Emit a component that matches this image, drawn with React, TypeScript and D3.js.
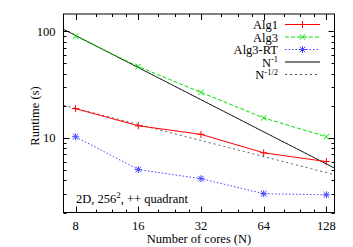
import React, { useEffect, useRef } from 'react';
import * as d3 from 'd3';

const cores = [8, 16, 32, 64, 128];
const alg1 = [18.8, 13.0, 10.8, 7.25, 6.0];
const alg3 = [90, 46.7, 26.7, 15.4, 10.25];
const alg3rt = [10.25, 5.05, 4.15, 3.0, 2.93];
const yTickLabels = [10, 100];
const xTickLabels = ['8', '16', '32', '64', '128'];

const App: React.FC = () => {
  const ref = useRef<SVGSVGElement | null>(null);

  useEffect(() => {
    const svg = d3.select(ref.current);
    svg.selectAll('*').remove();

    const W = 353;
    const H = 247;
    const left = 63.5;
    const right = 334.5;
    const top = 14;
    const bottom = 212.5;
    const font = '"Liberation Serif", "Times New Roman", serif';
    const fs = 12.5;

    svg.attr('width', W).attr('height', H);

    const x = d3.scaleLog().base(2).domain([7, 140]).range([left, right]);
    const y = d3.scaleLog().domain([2, 145]).range([bottom, top]);

    // clip for lines
    svg
      .append('clipPath')
      .attr('id', 'plotclip')
      .append('rect')
      .attr('x', left)
      .attr('y', top)
      .attr('width', right - left)
      .attr('height', bottom - top);

    const g = svg.append('g');

    // y ticks (major + minor, mirrored)
    const yMinor: number[] = [];
    for (const dec of [1, 10, 100]) {
      for (let k = 1; k <= 9; k++) {
        const v = dec * k;
        if (v >= 2 && v <= 145) yMinor.push(v);
      }
    }
    yMinor.forEach((v) => {
      const major = yTickLabels.includes(v);
      const len = major ? 6 : 3;
      const yy = Math.round(y(v)) + 0.5;
      g.append('line').attr('x1', left).attr('x2', left + len).attr('y1', yy).attr('y2', yy).attr('stroke', '#000');
      g.append('line').attr('x1', right - len).attr('x2', right).attr('y1', yy).attr('y2', yy).attr('stroke', '#000');
    });

    // x ticks
    const xMinor: number[] = [];
    cores.forEach((c) => {
      [1.25, 1.5, 1.75].forEach((m) => {
        if (c * m <= 140) xMinor.push(c * m);
      });
    });
    xMinor.forEach((v) => {
      const xx = Math.round(x(v)) + 0.5;
      g.append('line').attr('x1', xx).attr('x2', xx).attr('y1', bottom).attr('y2', bottom - 3).attr('stroke', '#000');
      g.append('line').attr('x1', xx).attr('x2', xx).attr('y1', top).attr('y2', top + 3).attr('stroke', '#000');
    });
    cores.forEach((v) => {
      const xx = Math.round(x(v)) + 0.5;
      g.append('line').attr('x1', xx).attr('x2', xx).attr('y1', bottom).attr('y2', bottom - 6).attr('stroke', '#000');
      g.append('line').attr('x1', xx).attr('x2', xx).attr('y1', top).attr('y2', top + 6).attr('stroke', '#000');
    });

    // tick labels
    yTickLabels.forEach((v) => {
      g.append('text')
        .attr('x', left - 8)
        .attr('y', y(v) + 4.5)
        .attr('text-anchor', 'end')
        .attr('font-family', font)
        .attr('font-size', fs)
        .text(String(v));
    });
    cores.forEach((v, i) => {
      g.append('text')
        .attr('x', x(v))
        .attr('y', bottom + 17.5)
        .attr('text-anchor', 'middle')
        .attr('font-family', font)
        .attr('font-size', fs)
        .text(xTickLabels[i]);
    });

    // axis titles
    g.append('text')
      .attr('x', (left + right) / 2)
      .attr('y', 243)
      .attr('text-anchor', 'middle')
      .attr('font-family', font)
      .attr('font-size', fs)
      .text('Number of cores (N)');
    g.append('text')
      .attr('transform', `translate(39,116) rotate(-90)`)
      .attr('text-anchor', 'middle')
      .attr('font-family', font)
      .attr('font-size', fs)
      .text('Runtime (s)');

    // reference curves
    const fx = d3.range(0, 201).map((i) => 7 * Math.pow(20, i / 200));
    const plotG = g.append('g').attr('clip-path', 'url(#plotclip)');
    const lineFn = d3
      .line<[number, number]>()
      .x((d) => x(d[0]))
      .y((d) => y(d[1]));

    plotG
      .append('path')
      .attr('d', lineFn(fx.map((n) => [n, 53.5 / Math.sqrt(n)] as [number, number])))
      .attr('fill', 'none')
      .attr('stroke', '#555')
      .attr('stroke-width', 1)
      .attr('stroke-dasharray', '2,3');
    plotG
      .append('path')
      .attr('d', lineFn(fx.map((n) => [n, 730 / n] as [number, number])))
      .attr('fill', 'none')
      .attr('stroke', '#000')
      .attr('stroke-width', 1);

    // series
    type Marker = 'plus' | 'cross' | 'star';
    const series: { name: string; vals: number[]; color: string; dash: string | null; marker: Marker }[] = [
      { name: 'Alg1', vals: alg1, color: '#ff0000', dash: null, marker: 'plus' },
      { name: 'Alg3', vals: alg3, color: '#00e000', dash: '4,2', marker: 'cross' },
      { name: 'Alg3-RT', vals: alg3rt, color: '#4444ff', dash: '1.5,2', marker: 'star' },
    ];

    const drawMarker = (sel: d3.Selection<SVGGElement, unknown, null, undefined>, cx: number, cy: number, m: Marker, color: string) => {
      const r = 3.5;
      const p = d3.path();
      if (m === 'plus' || m === 'star') {
        p.moveTo(cx - r, cy);
        p.lineTo(cx + r, cy);
        p.moveTo(cx, cy - r);
        p.lineTo(cx, cy + r);
      }
      if (m === 'cross' || m === 'star') {
        const q = r * 0.8;
        p.moveTo(cx - q, cy - q);
        p.lineTo(cx + q, cy + q);
        p.moveTo(cx - q, cy + q);
        p.lineTo(cx + q, cy - q);
      }
      sel.append('path').attr('d', p.toString()).attr('stroke', color).attr('stroke-width', 1).attr('fill', 'none');
    };

    series.forEach((s) => {
      const pts = cores.map((c, i) => [c, s.vals[i]] as [number, number]);
      const path = plotG
        .append('path')
        .attr('d', lineFn(pts))
        .attr('fill', 'none')
        .attr('stroke', s.color)
        .attr('stroke-width', 1);
      if (s.dash) path.attr('stroke-dasharray', s.dash);
      const mg = plotG.append('g');
      pts.forEach((p) => drawMarker(mg as any, x(p[0]), y(p[1]), s.marker, s.color));
    });

    // legend
    const legRight = 278;
    const sx1 = 285;
    const sx2 = 320;
    const rows = [24.5, 37, 49.5, 62, 74.5];
    const lg = g.append('g');
    series.forEach((s, i) => {
      lg.append('text')
        .attr('x', legRight)
        .attr('y', rows[i] + 4.5)
        .attr('text-anchor', 'end')
        .attr('font-family', font)
        .attr('font-size', fs)
        .text(s.name);
      const l = lg
        .append('line')
        .attr('x1', sx1)
        .attr('x2', sx2)
        .attr('y1', rows[i])
        .attr('y2', rows[i])
        .attr('stroke', s.color)
        .attr('stroke-width', 1);
      if (s.dash) l.attr('stroke-dasharray', s.dash);
      drawMarker(lg as any, (sx1 + sx2) / 2, rows[i], s.marker, s.color);
    });
    const supText = (row: number, sup: string) => {
      const t = lg
        .append('text')
        .attr('x', legRight)
        .attr('y', row + 4.5)
        .attr('text-anchor', 'end')
        .attr('font-family', font)
        .attr('font-size', fs);
      t.append('tspan').text('N');
      t.append('tspan').attr('dy', -4.5).attr('font-size', 8.5).text(sup);
    };
    supText(rows[3], '-1');
    lg.append('line')
      .attr('x1', sx1)
      .attr('x2', sx2)
      .attr('y1', rows[3])
      .attr('y2', rows[3])
      .attr('stroke', '#000')
      .attr('stroke-width', 1);
    supText(rows[4], '-1/2');
    lg.append('line')
      .attr('x1', sx1)
      .attr('x2', sx2)
      .attr('y1', rows[4])
      .attr('y2', rows[4])
      .attr('stroke', '#555')
      .attr('stroke-width', 1)
      .attr('stroke-dasharray', '2,3');

    // annotation
    const ann = g
      .append('text')
      .attr('x', 76)
      .attr('y', 203)
      .attr('font-family', font)
      .attr('font-size', fs);
    ann.append('tspan').text('2D, 256');
    ann.append('tspan').attr('dy', -5).attr('font-size', 9).text('2');
    ann.append('tspan').attr('dy', 5).text(', ++ quadrant');

    // frame
    g.append('rect')
      .attr('x', left)
      .attr('y', top)
      .attr('width', right - left)
      .attr('height', bottom - top)
      .attr('fill', 'none')
      .attr('stroke', '#000')
      .attr('stroke-width', 1);
  }, []);

  return <svg ref={ref} style={{ position: 'fixed', left: 0, top: 0, background: '#fff' }}></svg>;
};

export default App;
